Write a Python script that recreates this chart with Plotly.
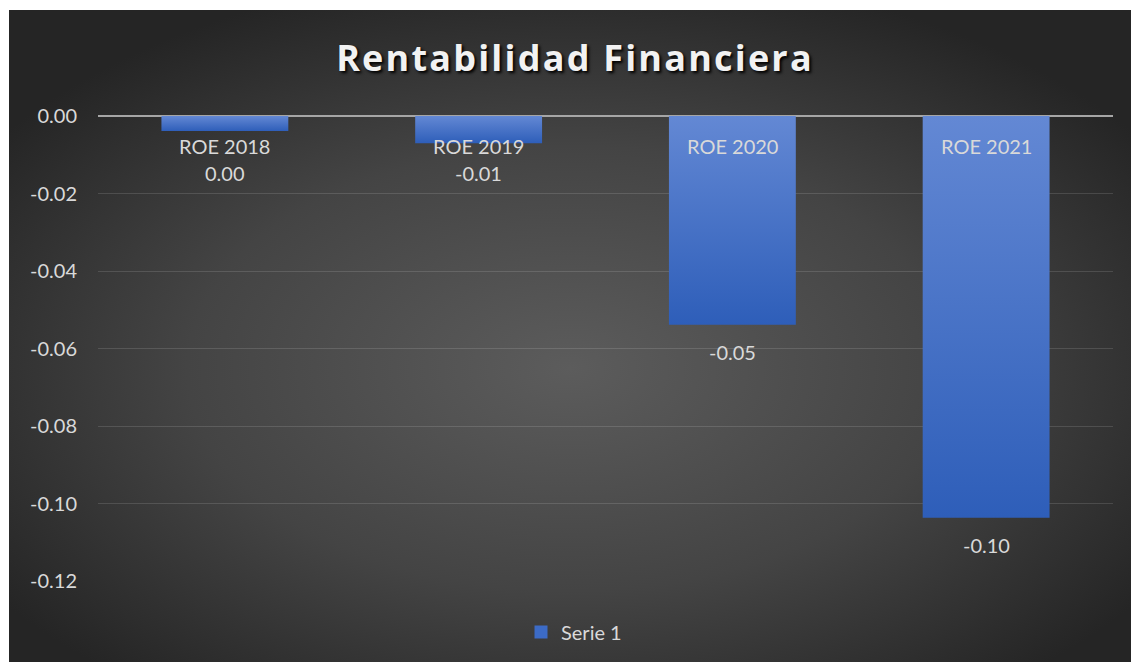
import base64
import plotly.graph_objects as go

categories = ["ROE 2018", "ROE 2019", "ROE 2020", "ROE 2021"]
roe_values = [-0.0039, -0.0070, -0.0539, -0.1037]
label_texts = ["0.00", "-0.01", "-0.05", "-0.10"]
series_name = "Serie 1"
y_ticks = [0.00, -0.02, -0.04, -0.06, -0.08, -0.10, -0.12]
y_tick_text = ["0.00", "-0.02", "-0.04", "-0.06", "-0.08", "-0.10", "-0.12"]

W, H = 1131, 662
L, R, T, B = 98, 18, 116, 81
pw, ph = W - L - R, H - T - B

def px_x(x):
    return (x - L) / pw

def px_y(y):
    return (H - B - y) / ph

svg = """<svg xmlns='http://www.w3.org/2000/svg' width='1122' height='652' viewBox='0 0 1122 652' preserveAspectRatio='none'>
<defs><radialGradient id='g' cx='0.5' cy='0.55' r='0.62' gradientUnits='objectBoundingBox'>
<stop offset='0' stop-color='#5c5c5c'/><stop offset='0.55' stop-color='#444444'/><stop offset='1' stop-color='#252525'/>
</radialGradient></defs><rect width='1122' height='652' fill='url(#g)'/></svg>"""
src = "data:image/svg+xml;base64," + base64.b64encode(svg.encode()).decode()

FONT = "Lato"
LIGHT = "#d9d9d9"
FS = 20

fig = go.Figure()
fig.add_trace(go.Bar(
    x=categories, y=roe_values, name=series_name, width=0.5,
    marker=dict(color="#3c6bc6", line=dict(width=0)),
    hoverinfo="skip",
))

annotations = []
for c, v, t in zip(categories, roe_values, label_texts):
    annotations.append(dict(x=c, y=0, xref="x", yref="y", text=c, showarrow=False,
                            yanchor="middle", yshift=-30,
                            font=dict(family=FONT, size=FS, color=LIGHT)))
    annotations.append(dict(x=c, y=min(v, -0.0077), xref="x", yref="y", text=t, showarrow=False,
                            yanchor="middle", yshift=-27,
                            font=dict(family=FONT, size=FS, color=LIGHT)))

fig.update_layout(
    width=W, height=H,
    margin=dict(l=L, r=R, t=T, b=B, autoexpand=False),
    paper_bgcolor="white", plot_bgcolor="rgba(0,0,0,0)",
    title=dict(text="Rentabilidad Financiera", x=575 / W, xref="container", xanchor="center",
               y=1 - 58 / H, yref="container", yanchor="middle",
               font=dict(family="Open Sans", size=36, color="#f2f2f2", weight="bold",
                         shadow="2px 2px 3px #000000")),
    images=[dict(source=src, xref="paper", yref="paper", x=px_x(9), y=px_y(10),
                 sizex=px_x(W) - px_x(9), sizey=px_y(10) - px_y(H),
                 sizing="stretch", layer="below", xanchor="left", yanchor="top")],
    xaxis=dict(showticklabels=False, showgrid=False, zeroline=False, showline=False, ticks=""),
    yaxis=dict(range=[-0.12, 0], tickvals=y_ticks, ticktext=y_tick_text,
               showgrid=True, gridcolor="rgba(255,255,255,0.13)", gridwidth=1,
               zeroline=True, zerolinecolor="#a6a6a6", zerolinewidth=2,
               showline=False, ticks="", ticklabelstandoff=20,
               tickfont=dict(family=FONT, size=FS, color=LIGHT)),
    showlegend=True,
    legend=dict(orientation="h", x=px_x(574), xanchor="center", y=px_y(632), yanchor="middle",
                font=dict(family=FONT, size=FS, color=LIGHT), bgcolor="rgba(0,0,0,0)"),
    annotations=annotations,
    bargap=0.5,
)

post = """
document.body.style.margin = '0';
var gd = document.getElementById('{plot_id}');
var t = gd.querySelector('.gtitle');
if (t) { t.style.letterSpacing = '2.2px'; }
var svgs = gd.querySelectorAll('svg.main-svg');
var main = svgs[0];
var ns = 'http://www.w3.org/2000/svg';
var defs = main.querySelector('defs') || main.insertBefore(document.createElementNS(ns, 'defs'), main.firstChild);
var lg = document.createElementNS(ns, 'linearGradient');
lg.setAttribute('id', 'barGrad');
lg.setAttribute('x1', '0'); lg.setAttribute('y1', '0'); lg.setAttribute('x2', '0'); lg.setAttribute('y2', '1');
[['0', '#6388d4'], ['1', '#2e5eb9']].forEach(function (s) {
  var st = document.createElementNS(ns, 'stop');
  st.setAttribute('offset', s[0]); st.setAttribute('stop-color', s[1]);
  lg.appendChild(st);
});
defs.appendChild(lg);
gd.querySelectorAll('.barlayer .point path').forEach(function (p) {
  p.style.fill = 'url(#barGrad)';
});
gd.querySelectorAll('.legendpoints path').forEach(function (p) {
  p.setAttribute('d', 'M6.5,6.5H-6.5V-6.5H6.5Z');
});
"""

fig.write_html("out.html", post_script=post, config={"displayModeBar": False})
